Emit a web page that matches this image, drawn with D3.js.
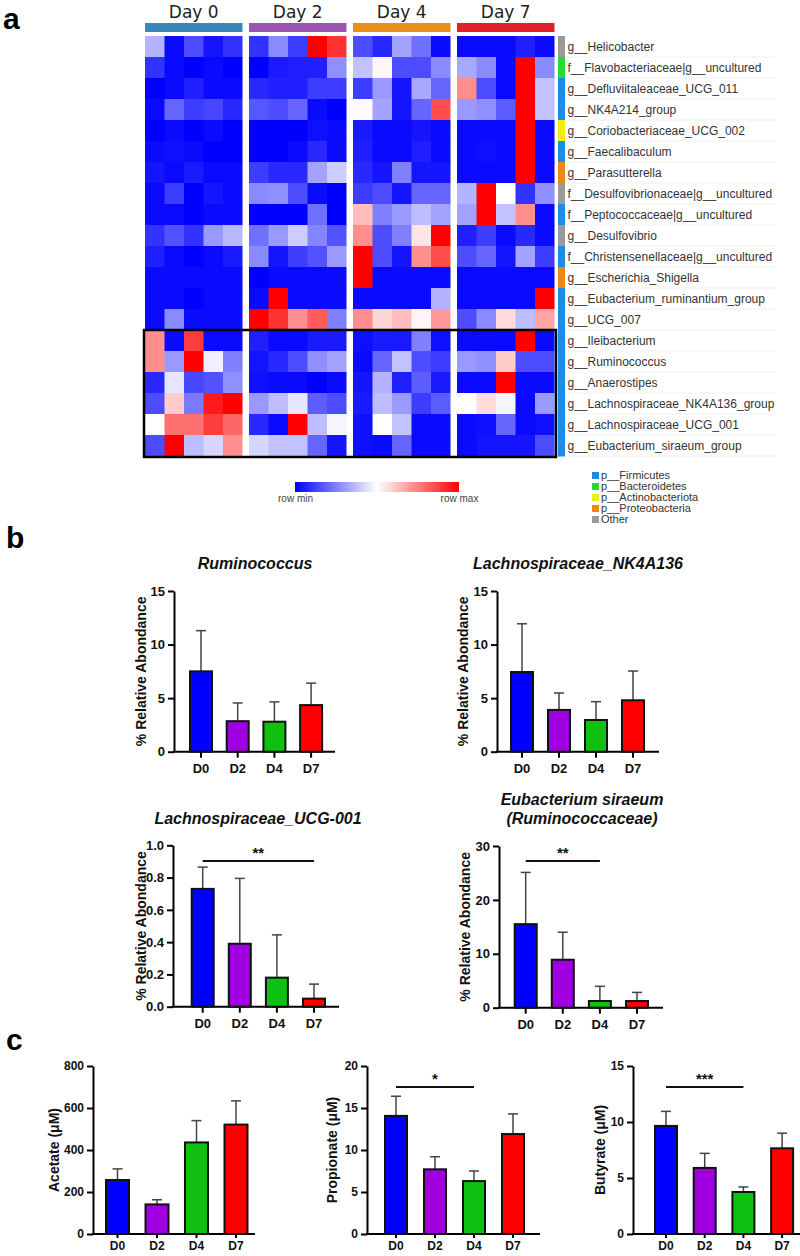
<!DOCTYPE html>
<html><head><meta charset="utf-8">
<script src="https://cdn.jsdelivr.net/npm/d3@7"></script>
<style>body{margin:0;background:#fff}svg{display:block}</style>
</head><body>
<svg id="fig" width="800" height="1256"></svg>
<script>
// ---------------- DATA ----------------
const days = ["Day 0","Day 2","Day 4","Day 7"];
const dayColors = ["#3a86b8","#9b55b0","#e8901c","#e0202a"];
const samples = ["s1","s2","s3","s4","s5"];
const taxa = ["g__Helicobacter","f__Flavobacteriaceae|g__uncultured","g__Defluviitaleaceae_UCG_011","g__NK4A214_group",
  "g__Coriobacteriaceae_UCG_002","g__Faecalibaculum","g__Parasutterella","f__Desulfovibrionaceae|g__uncultured",
  "f__Peptococcaceae|g__uncultured","g__Desulfovibrio","f__Christensenellaceae|g__uncultured","g__Escherichia_Shigella",
  "g__Eubacterium_ruminantium_group","g__UCG_007","g__Ileibacterium","g__Ruminococcus","g__Anaerostipes",
  "g__Lachnospiraceae_NK4A136_group","g__Lachnospiraceae_UCG_001","g__Eubacterium_siraeum_group"];
const taxonPhylum = ["Other","p__Bacteroidetes","p__Firmicutes","p__Firmicutes","p__Actinobacteriota","p__Firmicutes",
  "p__Proteobacteria","Other","p__Firmicutes","Other","p__Firmicutes","p__Proteobacteria","p__Firmicutes","p__Firmicutes",
  "p__Firmicutes","p__Firmicutes","p__Firmicutes","p__Firmicutes","p__Firmicutes","p__Firmicutes"];
const phyla = ["p__Firmicutes","p__Bacteroidetes","p__Actinobacteriota","p__Proteobacteria","Other"];
const phylumColors = ["#1a8ee6","#22dd33","#eeee11","#ee8814","#9a9a9a"];
// row-scaled abundance (0 = row min, 1 = row max); columns: Day0 x5, Day2 x5, Day4 x5, Day7 x5
const heat = [
 [0.35,0.02,0.15,0.04,0.1, 0.1,0.27,0.12,1.0,0.9, 0.15,0.08,0.32,0.22,0.02, 0.02,0.02,0.02,0.06,0.02],
 [0.1,0.02,0.0,0.02,0.0, 0.0,0.05,0.06,0.06,0.28, 0.38,0.52,0.15,0.15,0.27, 0.33,0.27,0.02,1.0,0.27],
 [0.0,0.02,0.06,0.02,0.02, 0.08,0.06,0.06,0.12,0.12, 0.12,0.3,0.04,0.33,0.2, 0.72,0.15,0.02,1.0,0.38],
 [0.02,0.2,0.12,0.14,0.08, 0.17,0.15,0.2,0.02,0.0, 0.49,0.32,0.04,0.2,0.85, 0.3,0.28,0.18,1.0,0.38],
 [0.0,0.02,0.0,0.02,0.0, 0.0,0.0,0.0,0.03,0.02, 0.05,0.02,0.02,0.04,0.02, 0.02,0.02,0.02,1.0,0.02],
 [0.02,0.03,0.02,0.0,0.0, 0.0,0.0,0.02,0.08,0.02, 0.06,0.02,0.02,0.06,0.02, 0.02,0.03,0.02,1.0,0.02],
 [0.04,0.02,0.05,0.02,0.02, 0.12,0.08,0.08,0.32,0.4, 0.08,0.04,0.25,0.04,0.04, 0.02,0.02,0.02,1.0,0.02],
 [0.02,0.12,0.0,0.04,0.02, 0.27,0.28,0.15,0.02,0.0, 0.12,0.15,0.04,0.2,0.2, 0.35,1.0,0.5,0.1,0.28],
 [0.02,0.02,0.0,0.02,0.02, 0.0,0.0,0.0,0.22,0.0, 0.63,0.25,0.3,0.37,0.32, 0.32,1.0,0.38,0.72,0.02],
 [0.1,0.16,0.1,0.3,0.36, 0.22,0.3,0.4,0.26,0.16, 0.72,0.15,0.25,0.55,1.0, 0.06,0.12,0.02,0.08,0.02],
 [0.06,0.02,0.0,0.02,0.05, 0.27,0.04,0.12,0.16,0.3, 1.0,0.15,0.04,0.72,0.85, 0.15,0.2,0.04,0.32,0.12],
 [0.02,0.02,0.02,0.02,0.02, 0.0,0.02,0.02,0.02,0.02, 1.0,0.02,0.02,0.02,0.02, 0.02,0.02,0.02,0.02,0.02],
 [0.02,0.02,0.0,0.02,0.02, 0.02,1.0,0.02,0.02,0.02, 0.02,0.02,0.02,0.02,0.35, 0.02,0.02,0.02,0.02,1.0],
 [0.02,0.27,0.02,0.02,0.02, 1.0,0.9,0.72,0.82,0.25, 0.72,0.58,0.63,0.52,0.7, 0.15,0.27,0.57,0.37,0.68],
 [0.72,0.02,0.88,0.02,0.02, 0.06,0.02,0.02,0.05,0.05, 0.03,0.05,0.05,0.25,0.03, 0.02,0.02,0.02,1.0,0.02],
 [0.72,0.3,1.0,0.47,0.25, 0.04,0.08,0.15,0.28,0.32, 0.02,0.2,0.38,0.15,0.12, 0.3,0.28,0.6,0.15,0.15],
 [0.08,0.45,0.14,0.16,0.28, 0.03,0.02,0.02,0.0,0.02, 0.04,0.35,0.06,0.18,0.05, 0.02,0.02,1.0,0.02,0.02],
 [0.15,0.6,0.24,0.95,1.0, 0.3,0.37,0.45,0.18,0.15, 0.05,0.37,0.3,0.12,0.18, 0.5,0.57,0.48,0.02,0.3],
 [0.5,0.78,0.78,0.88,0.8, 0.08,0.02,1.0,0.37,0.48, 0.03,0.5,0.38,0.02,0.02, 0.02,0.03,0.2,0.02,0.03],
 [0.15,1.0,0.37,0.42,0.72, 0.42,0.38,0.38,0.2,0.04, 0.03,0.02,0.2,0.02,0.02, 0.02,0.04,0.04,0.04,0.15]
];
const boxedFrom = 14; // first boxed row (Ileibacterium)

const groups = ["D0","D2","D4","D7"];
const groupColors = ["#0000ff","#a000e0","#10c010","#ff0000"];
const rumMean = [7.5, 2.85, 2.8, 4.35],   rumSD = [3.8, 1.7, 1.85, 2.05];
const nkMean  = [7.44, 3.9, 2.96, 4.8],   nkSD  = [4.5, 1.58, 1.71, 2.73];
const ucgMean = [0.73, 0.39, 0.18, 0.05], ucgSD = [0.135, 0.405, 0.265, 0.09];
const sirMean = [15.5, 8.9, 1.24, 1.24],  sirSD = [9.6, 5.1, 2.73, 1.6];
const acetate = [257, 141, 436, 521],     acetateSD = [53, 22, 104, 113];
const propionate = [14.06, 7.7, 6.3, 11.9], propionateSD = [2.34, 1.5, 1.2, 2.4];
const butyrate = [9.65, 5.9, 3.75, 7.65], butyrateSD = [1.3, 1.3, 0.45, 1.35];

// ---------------- DRAW ----------------
const svg = d3.select("#fig");
const F = "'Liberation Sans', Arial, sans-serif";

// panel letters
[["a",3,29],["b",6,548],["c",6,1050]].forEach(([t,x,y])=>{
  svg.append("text").attr("x",x).attr("y",y).text(t)
    .attr("font-family",F).attr("font-weight","bold").attr("font-size",30).attr("fill","#000");
});

// ---- Heatmap ----
const xDay = d3.scaleBand().domain(days).range([145,554.5]).paddingInner(6.5/104);
const xSample = d3.scaleBand().domain(samples).range([0, xDay.bandwidth()]);
const yRow = d3.scaleBand().domain(taxa).range([36,456]);
const color = d3.scaleLinear().domain([0,0.5,1]).range(["#0000ff","#ffffff","#ff0000"]).interpolate(d3.interpolateRgb);

const hm = svg.append("g");
const cells = [];
heat.forEach((row,ri)=>row.forEach((v,ci)=>cells.push({t:taxa[ri],d:days[Math.floor(ci/5)],s:samples[ci%5],v})));
hm.selectAll("rect.cell").data(cells).join("rect").attr("class","cell")
  .attr("x",d=>xDay(d.d)+xSample(d.s)).attr("y",d=>yRow(d.t))
  .attr("width",d=>xSample.bandwidth()+(d.s==="s5"?0:0.6)).attr("height",yRow.bandwidth()+0.6)
  .attr("fill",d=>color(d.v));

// day header bars + labels
days.forEach((d,i)=>{
  svg.append("rect").attr("x",xDay(d)).attr("y",23).attr("width",xDay.bandwidth()).attr("height",9).attr("fill",dayColors[i]);
  svg.append("text").attr("x",xDay(d)+xDay.bandwidth()/2).attr("y",18).attr("text-anchor","middle")
    .attr("font-family","'DejaVu Sans', Verdana, sans-serif").attr("font-size",17).attr("fill","#222").text(d);
});

// black box around boxed rows
svg.append("rect").attr("x",144).attr("y",yRow(taxa[boxedFrom])).attr("width",556-144)
  .attr("height",yRow(taxa[19])+yRow.bandwidth()-yRow(taxa[boxedFrom])+1)
  .attr("fill","none").attr("stroke","#000").attr("stroke-width",2.5);

// phylum side strip + labels
const phColor = d3.scaleOrdinal().domain(phyla).range(phylumColors);
taxa.forEach((t,i)=>{
  svg.append("rect").attr("x",558).attr("y",yRow(t)).attr("width",7).attr("height",yRow.bandwidth()+0.5).attr("fill",phColor(taxonPhylum[i]));
  svg.append("line").attr("x1",567).attr("x2",776).attr("y1",yRow(t)+yRow.bandwidth()).attr("y2",yRow(t)+yRow.bandwidth())
    .attr("stroke","#f0f0f0").attr("stroke-width",1);
  svg.append("text").attr("x",567.5).attr("y",yRow(t)+yRow.bandwidth()/2+4.3).text(t)
    .attr("font-family",F).attr("font-size",12).attr("fill","#333");
});

// color legend
const defs = svg.append("defs");
const grad = defs.append("linearGradient").attr("id","rg");
[0,0.5,1].forEach(o=>grad.append("stop").attr("offset",o).attr("stop-color",color(o)));
svg.append("rect").attr("x",295).attr("y",482).attr("width",164).attr("height",10).attr("fill","url(#rg)");
[["row min",295.5],["row max",459.5]].forEach(([t,x])=>svg.append("text").attr("x",x).attr("y",502)
  .attr("text-anchor","middle").attr("font-family",F).attr("font-size",10).attr("fill","#444").text(t));

// phylum legend
phyla.forEach((p,i)=>{
  const y = 475.5 + i*11;
  svg.append("rect").attr("x",592).attr("y",y-3.5).attr("width",7).attr("height",7).attr("fill",phColor(p));
  svg.append("text").attr("x",601).attr("y",y+3.8).attr("font-family",F).attr("font-size",11).attr("fill","#333").text(p);
});

// ---- Bar charts ----
function barChart(o){
  const g = svg.append("g");
  const p = 1 - o.barW/o.step;
  const xs = d3.scaleBand().domain(groups).range([o.c0 - o.step/2, o.c0 + o.step*3.5]).paddingInner(p).paddingOuter(p/2);
  const ys = d3.scaleLinear().domain([0,o.max]).range([o.yBot,o.yTop]);
  const tf = o.tickFont || F;
  const ts = o.tickSize || 13;
  // y axis
  const ya = g.append("g").attr("transform",`translate(${o.x0},0)`)
    .call(d3.axisLeft(ys).tickValues(o.ticks).tickFormat(o.fmt).tickSize(6).tickSizeOuter(0).tickPadding(3));
  ya.select(".domain").attr("stroke","#000").attr("stroke-width",2);
  ya.selectAll(".tick line").attr("stroke","#000").attr("stroke-width",2);
  ya.selectAll(".tick text").attr("font-family",tf).attr("font-weight","bold").attr("font-size",ts).attr("fill","#111");
  // x axis
  g.append("line").attr("x1",o.x0-1).attr("x2",o.x1).attr("y1",o.yBot).attr("y2",o.yBot).attr("stroke","#000").attr("stroke-width",2);
  const xa = g.append("g").attr("transform",`translate(0,${o.yBot})`)
    .call(d3.axisBottom(xs).tickSize(o.xTick||6).tickPadding(o.xPad||6));
  xa.select(".domain").remove();
  xa.selectAll(".tick line").attr("stroke","#000").attr("stroke-width",2);
  xa.selectAll(".tick text").attr("font-family",tf).attr("font-weight","bold").attr("font-size",ts).attr("fill","#111");
  // error bars
  const data = groups.map((k,i)=>({k,m:o.mean[i],s:o.sd[i],c:groupColors[i]}));
  g.selectAll("line.err").data(data).join("line").attr("class","err")
    .attr("x1",d=>xs(d.k)+xs.bandwidth()/2).attr("x2",d=>xs(d.k)+xs.bandwidth()/2)
    .attr("y1",d=>ys(d.m)).attr("y2",d=>ys(d.m+d.s)).attr("stroke","#444").attr("stroke-width",1.5);
  g.selectAll("line.cap").data(data).join("line").attr("class","cap")
    .attr("x1",d=>xs(d.k)+xs.bandwidth()/2-5).attr("x2",d=>xs(d.k)+xs.bandwidth()/2+5)
    .attr("y1",d=>ys(d.m+d.s)).attr("y2",d=>ys(d.m+d.s)).attr("stroke","#444").attr("stroke-width",1.5);
  // bars
  g.selectAll("rect.bar").data(data).join("rect").attr("class","bar")
    .attr("x",d=>xs(d.k)).attr("width",xs.bandwidth()).attr("y",d=>ys(d.m)).attr("height",d=>o.yBot-ys(d.m))
    .attr("fill",d=>d.c).attr("stroke","#111").attr("stroke-width",2);
  // title
  (o.title||[]).forEach(([t,y])=>g.append("text").attr("x",o.titleX).attr("y",y).attr("text-anchor","middle")
    .attr("font-family",F).attr("font-weight","bold").attr("font-style","italic").attr("font-size",16).attr("fill","#111").text(t));
  // y label
  g.append("text").attr("transform",`translate(${o.labX},${(o.yTop+o.yBot)/2}) rotate(-90)`)
    .attr("text-anchor","middle").attr("dominant-baseline","middle")
    .attr("font-family",F).attr("font-weight","bold").attr("font-size",o.labSize||14).attr("fill","#111").text(o.ylabel);
  // significance
  if(o.sig){
    const [a,b,y,s] = o.sig;
    g.append("line").attr("x1",xs(a)+xs.bandwidth()/2).attr("x2",xs(b)+xs.bandwidth()/2).attr("y1",y).attr("y2",y)
      .attr("stroke","#111").attr("stroke-width",2);
    g.append("text").attr("x",(xs(a)+xs(b)+xs.bandwidth())/2).attr("y",y-3).attr("text-anchor","middle")
      .attr("font-family",F).attr("font-weight","bold").attr("font-size",15).attr("fill","#111").text(s);
  }
}
const f0 = d3.format("d"), f1 = d3.format(".1f");
barChart({x0:174,x1:335,yTop:591,yBot:751.7,max:15,ticks:[0,5,10,15],fmt:f0,c0:201,step:36.7,barW:22,
  mean:rumMean,sd:rumSD,title:[["Ruminococcus",569]],titleX:255,ylabel:"% Relative Abondance",labX:142});
barChart({x0:497,x1:659,yTop:591,yBot:751.7,max:15,ticks:[0,5,10,15],fmt:f0,c0:522,step:37,barW:22,
  mean:nkMean,sd:nkSD,title:[["Lachnospiraceae_NK4A136",569]],titleX:578,ylabel:"% Relative Abondance",labX:464});
barChart({x0:173,x1:339,yTop:845.3,yBot:1006.7,max:1,ticks:[0,0.2,0.4,0.6,0.8,1.0],fmt:f1,c0:202.7,step:37.1,barW:22,
  mean:ucgMean,sd:ucgSD,title:[["Lachnospiraceae_UCG-001",824]],titleX:258,ylabel:"% Relative Abondance",labX:142,
  sig:["D0","D7",861,"**"]});
barChart({x0:499,x1:663,yTop:846,yBot:1007.7,max:30,ticks:[0,10,20,30],fmt:f0,c0:525.7,step:37.1,barW:22,
  mean:sirMean,sd:sirSD,title:[["Eubacterium siraeum",805],["(Ruminococcaceae)",824]],titleX:582,ylabel:"% Relative Abondance",labX:466,
  sig:["D0","D4",861,"**"]});
const NF = "'Liberation Sans Narrow','Arial Narrow','Liberation Sans',Arial,sans-serif";
barChart({x0:93,x1:255,yTop:1066,yBot:1234,max:800,ticks:[0,200,400,600,800],fmt:f0,c0:117.5,step:39.5,barW:23,
  mean:acetate,sd:acetateSD,ylabel:"Acetate (μM)",labX:55,labSize:14,tickFont:NF,tickSize:12,xTick:4,xPad:3});
barChart({x0:367,x1:540,yTop:1066,yBot:1234,max:20,ticks:[0,5,10,15,20],fmt:f0,c0:396,step:39,barW:22,
  mean:propionate,sd:propionateSD,ylabel:"Propionate (μM)",labX:333,labSize:14,tickFont:NF,tickSize:12,xTick:4,xPad:3,sig:["D0","D4",1087,"*"]});
barChart({x0:633,x1:800,yTop:1066,yBot:1234,max:15,ticks:[0,5,10,15],fmt:f0,c0:666,step:38.7,barW:22,
  mean:butyrate,sd:butyrateSD,ylabel:"Butyrate (μM)",labX:601,labSize:14,tickFont:NF,tickSize:12,xTick:4,xPad:3,sig:["D0","D4",1087,"***"]});
</script>
</body></html>
